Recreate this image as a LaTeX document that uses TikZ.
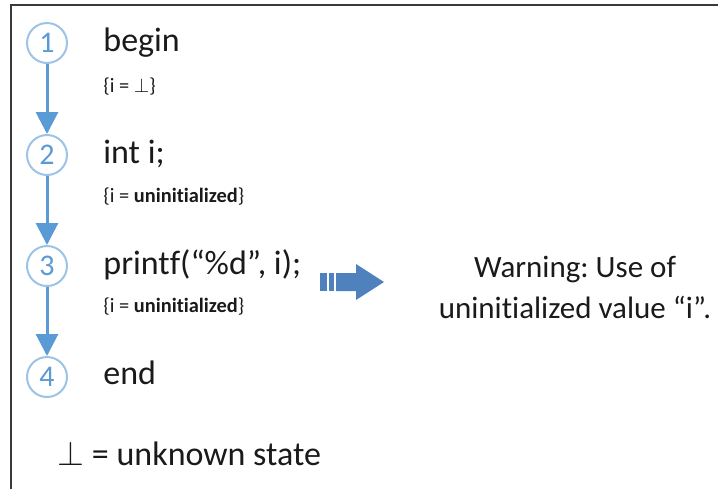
\documentclass[tikz,border=0pt]{standalone}
\usepackage{fontspec}
\setmainfont{Carlito}[Ligatures=NoCommon]
\usetikzlibrary{arrows.meta,positioning}
\definecolor{ringblue}{HTML}{9DC3E6}
\definecolor{digitblue}{HTML}{5B9BD5}
\definecolor{flowblue}{HTML}{5B9BD5}
\definecolor{hintblue}{HTML}{4F81BD}
\definecolor{framegray}{HTML}{3A3A3A}
\definecolor{ink}{HTML}{1A1A1A}
\frenchspacing
\tikzset{
  stepcircle/.style={
    circle, draw=ringblue, fill=white, line width=1pt,
    minimum size=20pt, inner sep=0pt,
    text=digitblue, font=\fontsize{15}{17}\selectfont
  },
  stmt/.style={
    anchor=base west, inner sep=0pt, text=ink,
    font=\fontsize{17}{20}\selectfont
  },
  stateinfo/.style={
    anchor=base west, inner sep=0pt, text=ink,
    font=\fontsize{10.2}{12}\selectfont
  },
  flowarrow/.style={
    -{Triangle[length=11pt,width=11pt]}, draw=flowblue, line width=1.5pt
  },
}

\begin{document}
\begin{tikzpicture}[x=0.5pt, y=-0.5pt]
\useasboundingbox (0,0) rectangle (718,489);
% frame
\draw[framegray, line width=1pt] (11,489) -- (11,5) -- (718,5);
% steps
\node[stepcircle] (s1) at (47,43) {1};
\node[stepcircle] (s2) at (47,155) {2};
\node[stepcircle] (s3) at (47,266) {3};
\node[stepcircle] (s4) at (47,377) {4};
\draw[flowarrow] (s1) -- (s2);
\draw[flowarrow] (s2) -- (s3);
\draw[flowarrow] (s3) -- (s4);
% statements and states
\node[stmt] (begin) at (103,51) {begin};
\node[stateinfo] (st1) at (103,92) {\{i = $\perp$\}};
\node[stmt] (decl) at (103,163) {int i;};
\node[stateinfo] (st2) at (103,202) {\{i = \textbf{uninitialized}\}};
\node[stmt] (call) at (103,274) {printf(“\%d”, i);};
\node[stateinfo] (st3) at (103,312) {\{i = \textbf{uninitialized}\}};
\node[stmt] (end) at (103,384) {end};
\node[stmt] (legend) at (57,465) {$\perp$ = unknown state};
% warning
\fill[hintblue] (320,273) rectangle (327,291);
\fill[hintblue] (329,273) rectangle (334,291);
\fill[hintblue] (336,273) -- (356,273) -- (356,264) -- (384,282)
  -- (356,300) -- (356,291) -- (336,291) -- cycle;
\node[align=center, text=ink, font=\fontsize{15.5}{20.5}\selectfont]
  (warn) at (575,287) {Warning: Use of\\uninitialized value “i”.};
\end{tikzpicture}
\end{document}
